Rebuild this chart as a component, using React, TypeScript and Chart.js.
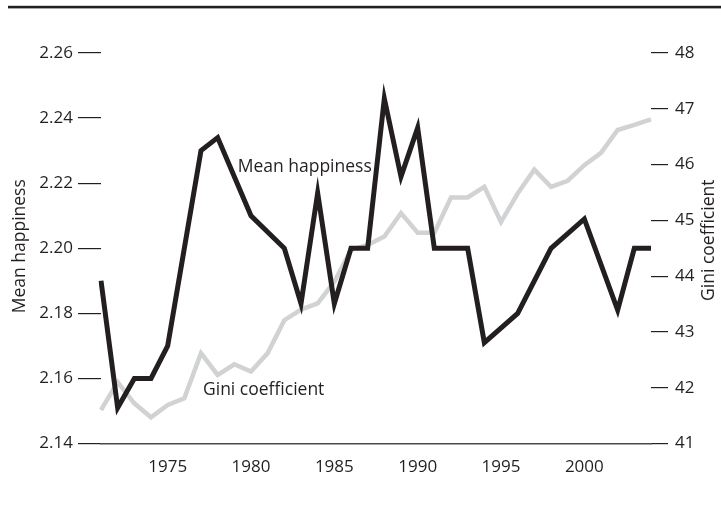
import React, { useEffect, useRef } from "react";
import { Chart, registerables } from "chart.js";

Chart.register(...registerables);

const years = [
  "1971", "1972", "1973", "1974", "1975", "1976", "1977", "1978", "1979", "1980",
  "1981", "1982", "1983", "1984", "1985", "1986", "1987", "1988", "1989", "1990",
  "1991", "1992", "1993", "1994", "1995", "1996", "1997", "1998", "1999", "2000",
  "2001", "2002", "2003", "2004",
];

const meanHappiness: (number | null)[] = [
  2.19, 2.151, 2.16, 2.16, 2.17, 2.2, 2.23, 2.234, null, 2.21,
  null, 2.2, 2.183, 2.217, 2.183, 2.2, 2.2, 2.246, 2.222, 2.237,
  2.2, null, 2.2, 2.171, null, 2.18, null, 2.2, null, 2.209,
  null, 2.181, 2.2, 2.2,
];

const giniCoefficient: number[] = [
  41.6, 42.1, 41.72, 41.47, 41.69, 41.81, 42.62, 42.23, 42.42, 42.29,
  42.62, 43.21, 43.4, 43.51, 43.9, 44.47, 44.56, 44.71, 45.13, 44.78,
  44.78, 45.41, 45.41, 45.6, 44.97, 45.48, 45.91, 45.6, 45.71, 45.99,
  46.21, 46.62, 46.71, 46.81,
];

const xTickYears = ["1975", "1980", "1985", "1990", "1995", "2000"];
const leftTicks = [2.14, 2.16, 2.18, 2.2, 2.22, 2.24, 2.26];
const rightTicks = [41, 42, 43, 44, 45, 46, 47, 48];

const INK = "#231f20";
const FONT = '"Open Sans", "DejaVu Sans", sans-serif';

const decorPlugin = {
  id: "decor",
  afterDraw(chart: any) {
    const { ctx, chartArea, scales } = chart;
    ctx.save();
    // top rule
    ctx.fillStyle = INK;
    ctx.fillRect(8, 5.8, 713, 2.6);

    ctx.fillStyle = INK;
    ctx.font = `17.5px ${FONT}`;
    ctx.textBaseline = "middle";
    ctx.textAlign = "center";

    // left axis title
    ctx.save();
    ctx.translate(20, (chartArea.top + chartArea.bottom) / 2 - 2);
    ctx.rotate(-Math.PI / 2);
    ctx.fillText("Mean happiness", 0, 0);
    ctx.restore();

    // right axis title
    ctx.save();
    ctx.translate(709, (chartArea.top + chartArea.bottom) / 2 - 8);
    ctx.rotate(-Math.PI / 2);
    ctx.fillText("Gini coefficient", 0, 0);
    ctx.restore();

    // series labels
    ctx.textAlign = "left";
    ctx.textBaseline = "alphabetic";
    const xs = scales.x;
    const yL = scales.y;
    const yR = scales.y1;
    const hx = xs.getPixelForValue(years.indexOf("1978")) + 20;
    const hy = yL.getPixelForValue(2.2225) - 3;
    ctx.fillText("Mean happiness", hx, hy);
    const gx = xs.getPixelForValue(years.indexOf("1977")) + 2;
    const gy = yR.getPixelForValue(42.0) + 7;
    ctx.fillText("Gini coefficient", gx, gy);
    ctx.restore();
  },
};

export default function App() {
  const ref = useRef<HTMLCanvasElement | null>(null);

  useEffect(() => {
    if (!ref.current) return;
    const chart = new Chart(ref.current, {
      type: "line",
      data: {
        labels: years,
        datasets: [
          {
            label: "Mean happiness",
            data: meanHappiness,
            yAxisID: "y",
            borderColor: INK,
            borderWidth: 5,
            borderJoinStyle: "miter",
            borderCapStyle: "butt",
            pointRadius: 0,
            tension: 0,
            spanGaps: true,
            fill: false,
          },
          {
            label: "Gini coefficient",
            data: giniCoefficient,
            yAxisID: "y1",
            borderColor: "#d1d2d3",
            borderWidth: 4.5,
            borderJoinStyle: "miter",
            borderCapStyle: "butt",
            pointRadius: 0,
            tension: 0,
            fill: false,
          },
        ],
      },
      options: {
        responsive: false,
        animation: false,
        layout: { padding: { top: 53, left: 0, right: 0, bottom: 0 } },
        plugins: {
          legend: { display: false },
          tooltip: { enabled: false },
          title: { display: false },
        },
        scales: {
          x: {
            type: "category",
            offset: false,
            grid: { display: false, drawTicks: false },
            border: { display: true, color: "#4a4a4a", width: 1.5 },
            ticks: {
              autoSkip: false,
              maxRotation: 0,
              minRotation: 0,
              padding: 13,
              color: INK,
              font: { family: FONT, size: 17 },
              callback: function (this: any, value: any) {
                const lab = this.getLabelForValue(value);
                return xTickYears.includes(lab) ? lab : null;
              },
            },
            afterFit: (scale: any) => {
              scale.height = 74.5;
            },
          },
          y: {
            type: "linear",
            position: "left",
            min: 2.14,
            max: 2.26,
            grid: {
              display: true,
              drawOnChartArea: false,
              drawTicks: true,
              tickLength: 23,
              color: INK,
              lineWidth: 1.2,
            },
            border: { display: false },
            afterBuildTicks: (scale: any) => {
              scale.ticks = leftTicks.map((v) => ({ value: v }));
            },
            ticks: {
              padding: 5,
              color: INK,
              font: { family: FONT, size: 17 },
              callback: (v: any) => Number(v).toFixed(2),
            },
            afterFit: (scale: any) => {
              scale.width = 101;
            },
          },
          y1: {
            type: "linear",
            position: "right",
            min: 41,
            max: 48,
            grid: {
              display: true,
              drawOnChartArea: false,
              drawTicks: true,
              tickLength: 17,
              color: INK,
              lineWidth: 1.2,
            },
            border: { display: false },
            afterBuildTicks: (scale: any) => {
              scale.ticks = rightTicks.map((v) => ({ value: v }));
            },
            ticks: {
              padding: 7,
              color: INK,
              font: { family: FONT, size: 17 },
              callback: (v: any) => String(v),
            },
            afterFit: (scale: any) => {
              scale.width = 70;
            },
          },
        },
      },
      plugins: [decorPlugin],
    } as any);
    return () => chart.destroy();
  }, []);

  return (
    <div style={{ position: "absolute", left: 0, top: 0, width: 721, height: 518, background: "#fff" }}>
      <canvas ref={ref} width={721} height={518} style={{ display: "block" }} />
    </div>
  );
}
